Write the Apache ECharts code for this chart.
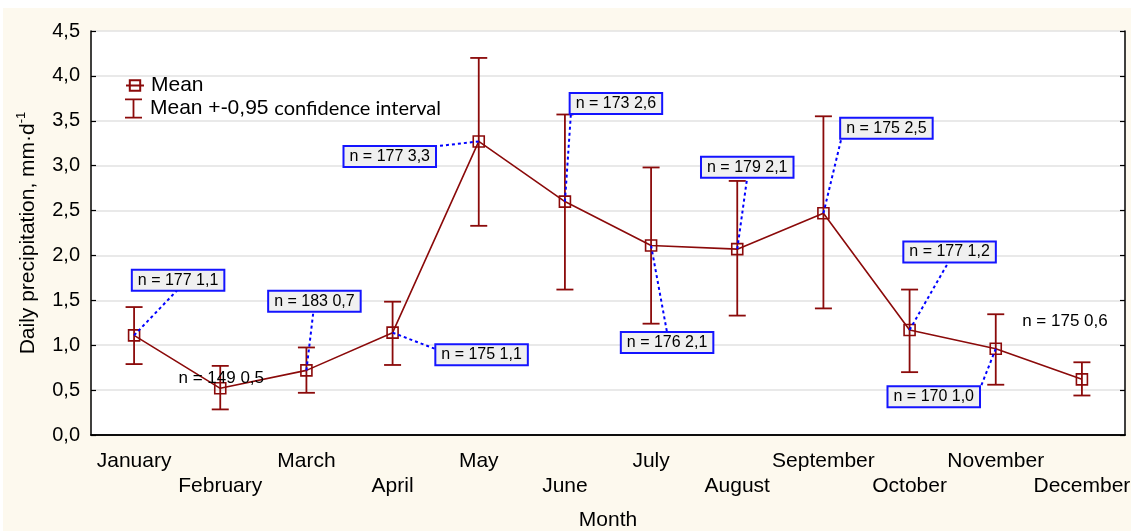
<!DOCTYPE html>
<html>
<head>
<meta charset="utf-8">
<script src="https://cdn.jsdelivr.net/npm/echarts@6/dist/echarts.min.js"></script>
<style>
  html, body { margin: 0; padding: 0; background: #ffffff; width: 1131px; height: 531px; overflow: hidden; }
  #chart { position: absolute; left: 3px; top: 8px; width: 1128px; height: 523px; }
</style>
</head>
<body>
<div id="chart"></div>
<script>
// Monthly daily precipitation: mean with 0.95 confidence interval
const months = ['January', 'February', 'March', 'April', 'May', 'June',
  'July', 'August', 'September', 'October', 'November', 'December'];
const meanValues = [1.11, 0.52, 0.72, 1.14, 3.27, 2.60, 2.11, 2.07, 2.47, 1.17, 0.96, 0.62];
const ciLower = [0.79, 0.285, 0.47, 0.78, 2.33, 1.62, 1.24, 1.33, 1.41, 0.70, 0.56, 0.44];
const ciUpper = [1.425, 0.77, 0.975, 1.485, 4.20, 3.57, 2.98, 2.83, 3.55, 1.62, 1.345, 0.81];
const sampleSizes = [177, 149, 183, 175, 177, 173, 176, 179, 175, 177, 170, 175];
const yMin = 0, yMax = 4.5, yStep = 0.5;

// Where each "n = ..." callout sits relative to its point (px), and where its leader meets the box
const labelPlacement = [
  { dx: 44, dy: -55, ax: -1, ay: 10, boxed: true },
  { dx: 1, dy: -10, boxed: false },
  { dx: 8, dy: -69, ax: -1, ay: 10, boxed: true },
  { dx: 89, dy: 22, ax: -47, ay: -6, boxed: true },
  { dx: -89, dy: 15, ax: 45, ay: -10, boxed: true },
  { dx: 51, dy: -98, ax: -45, ay: 10, boxed: true },
  { dx: 16, dy: 97, ax: 0, ay: -10, boxed: true },
  { dx: 10, dy: -82, ax: 0, ay: 10, boxed: true },
  { dx: 63, dy: -85, ax: -45, ay: 10, boxed: true },
  { dx: 40, dy: -78, ax: -1, ay: 10, boxed: true },
  { dx: -62, dy: 48, ax: 47, ay: -10, boxed: true },
  { dx: -17, dy: -58, boxed: false }
];

const FONT = '"Liberation Sans", Arial, sans-serif';
const RED = '#8b0a0a';
const comma = (v, d) => v.toFixed(d).replace('.', ',');

const chart = echarts.init(document.getElementById('chart'), null, { renderer: 'canvas' });

function renderErrorBar(params, api) {
  const x = api.value(0);
  const lo = api.coord([x, api.value(1)]);
  const hi = api.coord([x, api.value(2)]);
  const hw = 8.5;
  const st = { stroke: RED, lineWidth: 1.8, fill: null };
  return {
    type: 'group',
    children: [
      { type: 'line', shape: { x1: hi[0], y1: hi[1], x2: lo[0], y2: lo[1] }, style: st },
      { type: 'line', shape: { x1: hi[0] - hw, y1: hi[1], x2: hi[0] + hw, y2: hi[1] }, style: st },
      { type: 'line', shape: { x1: lo[0] - hw, y1: lo[1], x2: lo[0] + hw, y2: lo[1] }, style: st }
    ]
  };
}

function renderCallout(params, api) {
  const i = params.dataIndex;
  const p = api.coord([api.value(0), api.value(1)]);
  const pl = labelPlacement[i];
  const cx = p[0] + pl.dx, cy = p[1] + pl.dy;
  const text = 'n = ' + sampleSizes[i] + ' ' + comma(meanValues[i], 1);
  const children = [];
  if (pl.boxed) {
    children.push({
      type: 'line',
      shape: { x1: p[0], y1: p[1], x2: cx + pl.ax, y2: cy + pl.ay },
      style: { stroke: '#0000ff', lineWidth: 2, lineDash: [3, 3], fill: null }
    });
  }
  const ts = {
    text: text, fill: '#000', font: (pl.boxed ? '16px ' : '17px ') + FONT,
    align: 'center', verticalAlign: 'middle'
  };
  if (pl.boxed) {
    ts.backgroundColor = '#f0f0f0';
    ts.borderColor = '#1414ff';
    ts.borderWidth = 2;
    ts.padding = [2, 5, 1, 5];
  }
  children.push({ type: 'text', x: cx, y: cy, style: ts });
  return { type: 'group', children: children };
}

const option = {
  backgroundColor: '#fdf9ee',
  animation: false,
  grid: {
    left: 88, right: 6, top: 23, bottom: 96,
    containLabel: false, outerBoundsMode: 'none',
    show: true, backgroundColor: '#ffffff', borderWidth: 0
  },
  legend: [
    {
      data: ['Mean'],
      left: 117, top: 62,
      itemWidth: 18, itemHeight: 13,
      textStyle: { fontSize: 21, fontFamily: FONT, color: '#000', padding: [0, 0, 0, 2] }
    },
    {
      data: [{ name: 'Mean +-0,95 confidence interval',
        icon: 'path://M0,0H17V1.8H9.4V18.2H17V20H0V18.2H7.6V1.8H0Z' }],
      left: 117, top: 85,
      itemWidth: 17, itemHeight: 20,
      formatter: () => '{a|Mean +-0,95 }{b|confidence interval}',
      textStyle: {
        color: '#000', padding: [0, 0, 0, 3],
        rich: {
          a: { fontSize: 21, fontFamily: FONT, color: '#000' },
          b: { fontSize: 20, fontFamily: 'Lato, "Open Sans", sans-serif', color: '#000' }
        }
      }
    }
  ],
  xAxis: [
    {
      type: 'category', data: months, position: 'bottom', boundaryGap: true,
      name: 'Month', nameLocation: 'middle', nameGap: 75,
      nameTextStyle: { fontSize: 21, fontFamily: FONT, color: '#000' },
      axisLine: { lineStyle: { color: '#000', width: 1.5 } },
      axisTick: { alignWithLabel: true, inside: true, length: 5, lineStyle: { color: '#000', width: 1.2 } },
      axisLabel: {
        interval: 0, margin: 14, fontSize: 21, lineHeight: 25, fontFamily: FONT, color: '#000',
        formatter: (v, i) => (i % 2 ? '\n' + v : v)
      },
      splitLine: { show: false }
    },
    {
      type: 'category', data: months, position: 'top', boundaryGap: true,
      axisLine: { lineStyle: { color: '#000', width: 1.5 } },
      axisTick: { alignWithLabel: true, inside: true, length: 5, lineStyle: { color: '#000', width: 1.2 } },
      axisLabel: { show: false },
      splitLine: { show: false }
    }
  ],
  yAxis: [
    {
      type: 'value', min: yMin, max: yMax, interval: yStep, position: 'left',
      name: '{a|Daily precipitation, mm·d}{s|-1}',
      nameLocation: 'middle', nameGap: 50,
      nameTextStyle: {
        rich: {
          a: { fontSize: 21, fontFamily: FONT, color: '#000', lineHeight: 26 },
          s: { fontSize: 13, fontFamily: FONT, color: '#000', verticalAlign: 'top', lineHeight: 26 }
        }
      },
      axisLine: { show: true, lineStyle: { color: '#000', width: 1.5 } },
      axisTick: { show: true, inside: true, length: 5, lineStyle: { color: '#000', width: 1.2 } },
      axisLabel: { margin: 11, fontSize: 20, fontFamily: FONT, color: '#000', formatter: v => comma(v, 1) },
      splitLine: { show: true, lineStyle: { color: '#e2e2e2', width: 1.6 } }
    },
    {
      type: 'value', min: yMin, max: yMax, interval: yStep, position: 'right',
      axisLine: { show: true, lineStyle: { color: '#000', width: 1.5 } },
      axisTick: { show: true, inside: true, length: 5, lineStyle: { color: '#000', width: 1.2 } },
      axisLabel: { show: false },
      splitLine: { show: false }
    }
  ],
  series: [
    {
      name: 'Mean +-0,95 confidence interval',
      type: 'custom',
      itemStyle: { color: RED },
      encode: { x: 0, y: [1, 2] },
      data: months.map((m, i) => [i, ciLower[i], ciUpper[i]]),
      renderItem: renderErrorBar,
      z: 2
    },
    {
      name: 'Mean',
      type: 'line',
      data: meanValues,
      symbol: 'rect',
      symbolSize: 11,
      lineStyle: { color: RED, width: 1.6 },
      itemStyle: { color: 'rgba(255,255,255,0)', borderColor: RED, borderWidth: 1.6 },
      z: 3
    },
    {
      name: 'callouts',
      type: 'custom',
      encode: { x: 0, y: 1 },
      data: meanValues.map((v, i) => [i, v]),
      renderItem: renderCallout,
      z: 4
    }
  ]
};

chart.setOption(option);
</script>
</body>
</html>
